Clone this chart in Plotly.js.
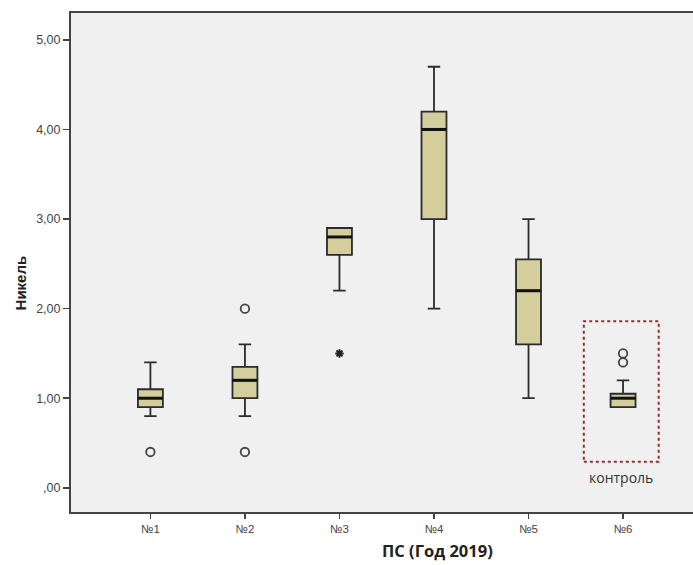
<!DOCTYPE html>
<html>
<head>
<meta charset="utf-8">
<script src="https://cdn.plot.ly/plotly-3.0.1.min.js"></script>
<style>html,body{margin:0;padding:0;background:#fff;}#chart{width:693px;height:565px;}</style>
</head>
<body>
<div id="chart"></div>
<script>
// Data
const categories = ['№1', '№2', '№3', '№4', '№5', '№6'];
const lowerWhisker = [0.8, 0.8, 2.2, 2.0, 1.0, 0.9];
const q1Values     = [0.9, 1.0, 2.6, 3.0, 1.6, 0.9];
const medians      = [1.0, 1.2, 2.8, 4.0, 2.2, 1.0];
const q3Values     = [1.1, 1.35, 2.9, 4.2, 2.55, 1.05];
const upperWhisker = [1.4, 1.6, 2.9, 4.7, 3.0, 1.2];
const outlierCat   = ['№1', '№2', '№2', '№6', '№6'];
const outlierVals  = [0.4, 0.4, 2.0, 1.4, 1.5];
const extremeCat   = ['№3'];
const extremeVals  = [1.5];
const yTickVals    = [0, 1, 2, 3, 4, 5];
const yTickText    = [',00', '1,00', '2,00', '3,00', '4,00', '5,00'];
const xTitle = 'ПС (Год 2019)';
const yTitle = 'Никель';
const controlLabel = 'контроль';

const idx = c => categories.indexOf(c);
const pos = categories.map((c, i) => i);
const halfW = 0.132;

const traces = [];
traces.push({
  type: 'box',
  x: pos,
  q1: q1Values,
  median: medians,
  q3: q3Values,
  lowerfence: lowerWhisker,
  upperfence: upperWhisker,
  width: 2 * halfW,
  whiskerwidth: 0.5,
  fillcolor: '#d4cd9c',
  line: {color: '#2b2b2b', width: 1.8},
  boxpoints: false,
  hoverinfo: 'skip',
  showlegend: false
});
// thick median lines
medians.forEach((m, i) => {
  traces.push({
    type: 'scatter', mode: 'lines',
    x: [i - halfW, i + halfW], y: [m, m],
    line: {color: '#111', width: 3},
    hoverinfo: 'skip', showlegend: false
  });
});
traces.push({
  type: 'scatter', mode: 'markers',
  x: outlierCat.map(idx), y: outlierVals,
  marker: {symbol: 'circle-open', size: 8.5, color: '#444', line: {width: 1.8, color: '#444'}},
  hoverinfo: 'skip', showlegend: false
});
traces.push({
  type: 'scatter', mode: 'markers',
  x: extremeCat.map(idx), y: extremeVals,
  marker: {symbol: 'asterisk-open', size: 7, color: '#222', line: {width: 2, color: '#222'}},
  hoverinfo: 'skip', showlegend: false
});

const layout = {
  width: 693, height: 565,
  margin: {l: 71, r: 0, t: 13, b: 53},
  paper_bgcolor: '#ffffff',
  plot_bgcolor: '#f0f0f0',
  showlegend: false,
  xaxis: {
    range: [-0.84, 5.74],
    tickvals: pos, ticktext: categories,
    showgrid: false, zeroline: false,
    showline: true, linecolor: '#444', linewidth: 2, mirror: true,
    ticks: 'outside', ticklen: 5, tickcolor: '#444', tickwidth: 1.5,
    tickfont: {family: 'Liberation Sans Narrow, Liberation Sans, Arial', size: 11.5, color: '#444'}
  },
  yaxis: {
    range: [-0.27, 5.30],
    tickvals: yTickVals, ticktext: yTickText,
    showgrid: false, zeroline: false,
    showline: true, linecolor: '#444', linewidth: 2, mirror: true,
    ticks: 'outside', ticklen: 6, tickcolor: '#444', tickwidth: 1.5,
    tickfont: {family: 'Liberation Sans, Arial', size: 12.5, color: '#444'}
  },
  shapes: [{
    type: 'rect', xref: 'x', yref: 'y',
    x0: 4.585, x1: 5.377, y0: 0.29, y1: 1.86,
    line: {color: '#a02828', width: 2, dash: 'dot'},
    fillcolor: 'rgba(0,0,0,0)'
  }],
  annotations: [{
    xref: 'x', yref: 'y', x: 4.98, y: 0.12,
    text: controlLabel, showarrow: false,
    font: {family: 'Open Sans, sans-serif', size: 14, color: '#333'}
  }, {
    xref: 'paper', yref: 'paper', x: 0.589, y: -0.078,
    xanchor: 'center', yanchor: 'middle',
    text: '<b>' + xTitle + '</b>', showarrow: false,
    font: {family: 'Open Sans, sans-serif', size: 16.5, color: '#222'}
  }, {
    xref: 'paper', yref: 'paper', x: -0.082, y: 0.46,
    xanchor: 'center', yanchor: 'middle', textangle: -90,
    text: '<b>' + yTitle + '</b>', showarrow: false,
    font: {family: 'Liberation Sans, Arial', size: 15, color: '#222'}
  }]
};

Plotly.newPlot('chart', traces, layout, {displayModeBar: false, staticPlot: true});
</script>
</body>
</html>
